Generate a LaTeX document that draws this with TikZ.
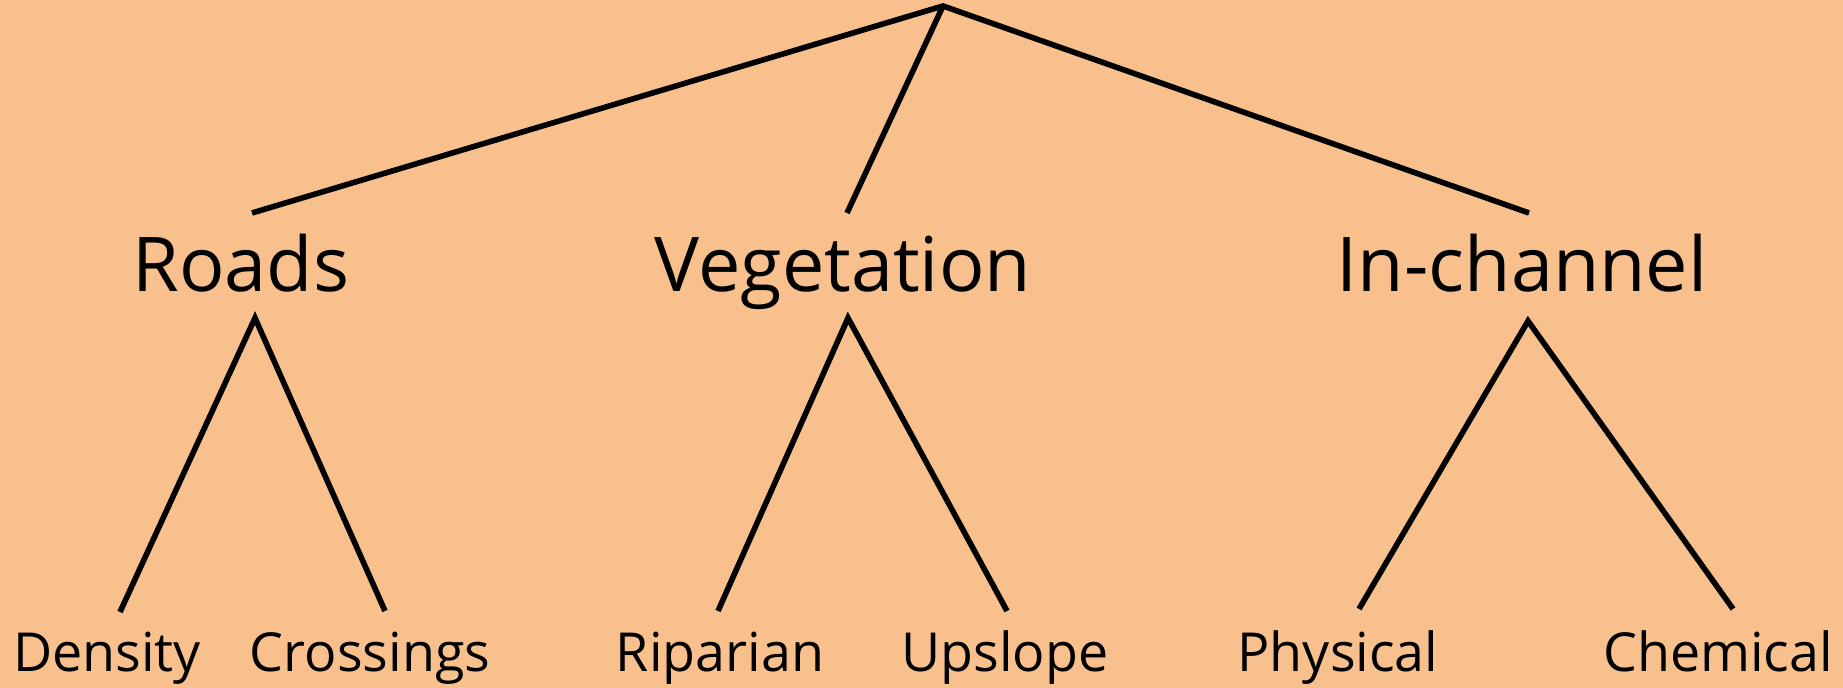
\documentclass[tikz,border=0pt]{standalone}
\usepackage{fontspec}
\setmainfont{Open Sans}
\definecolor{peach}{RGB}{247,192,141}

\begin{document}
\begin{tikzpicture}[
        branch/.style={line width=1.6pt, line cap=butt},
        topic/.style={font=\fontsize{21.5}{26}\selectfont, inner sep=0pt, anchor=base},
        leaf/.style={font=\fontsize{15.3}{19}\selectfont, inner sep=0pt, anchor=base},
    ]
        \fill[peach] (0,0) rectangle (18.43,6.88);
        \useasboundingbox (0,0) rectangle (18.43,6.88);
        % top level
        \coordinate (root) at (9.43,6.82);
        \node[topic] (roads) at (2.41,3.96) {Roads};
        \node[topic] (veg) at (8.43,3.96) {Vegetation};
        \node[topic] (inch) at (15.22,3.96) {In-channel};
        \coordinate (roads-in) at (2.52,4.75);
        \coordinate (veg-in) at (8.47,4.75);
        \coordinate (inch-in) at (15.29,4.75);
        \coordinate (roads-out) at (2.55,3.70);
        \coordinate (veg-out) at (8.48,3.70);
        \coordinate (inch-out) at (15.28,3.67);
        % leaves
        \node[leaf] (dens) at (1.07,0.16) {Density};
        \node[leaf] (cross) at (3.70,0.16) {Crossings};
        \node[leaf] (ripa) at (7.20,0.16) {Riparian};
        \node[leaf] (up) at (10.05,0.16) {Upslope};
        \node[leaf] (phys) at (13.38,0.16) {Physical};
        \node[leaf] (chem) at (17.18,0.16) {Chemical};
        \coordinate (dens-in) at (1.20,0.76);
        \coordinate (cross-in) at (3.85,0.77);
        \coordinate (ripa-in) at (7.18,0.77);
        \coordinate (up-in) at (10.07,0.77);
        \coordinate (phys-in) at (13.59,0.79);
        \coordinate (chem-in) at (17.33,0.79);
        % branches
        \draw[branch] (roads-in) -- (root) -- (inch-in);
        \draw[branch] (root) -- (veg-in);
        \draw[branch] (dens-in) -- (roads-out) -- (cross-in);
        \draw[branch] (ripa-in) -- (veg-out) -- (up-in);
        \draw[branch] (phys-in) -- (inch-out) -- (chem-in);
    \end{tikzpicture}
\end{document}
